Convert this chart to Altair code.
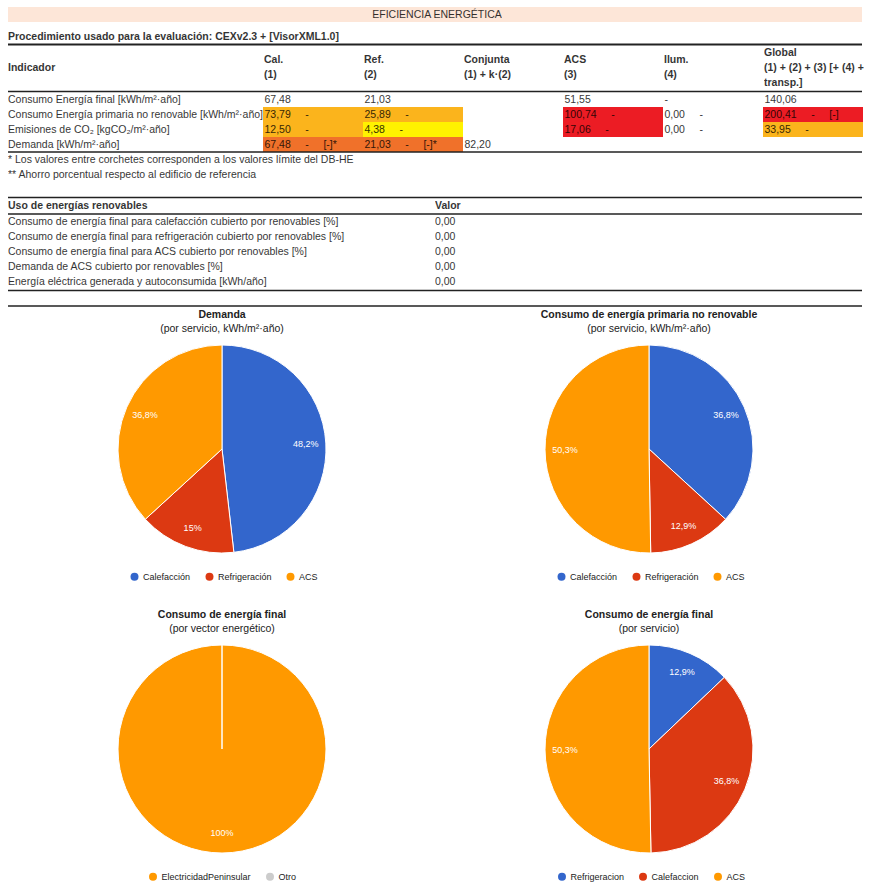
import altair as alt
import pandas as pd

FONT = "Liberation Sans"

# ---------------- data ----------------
titulo = "EFICIENCIA ENERGÉTICA"
procedimiento = "Procedimiento usado para la evaluación: CEXv2.3 + [VisorXML1.0]"

indicadores = [
    "Consumo Energía final [kWh/m²·año]",
    "Consumo Energía primaria no renovable [kWh/m²·año]",
    "Emisiones de CO₂ [kgCO₂/m²·año]",
    "Demanda [kWh/m²·año]",
]
cabecera_1 = ["Cal.", "Ref.", "Conjunta", "ACS", "Ilum."]
cabecera_2 = ["(1)", "(2)", "(1) + k·(2)", "(3)", "(4)"]
cabecera_global = ["Global", "(1) + (2) + (3) [+ (4) +", "transp.]"]

cal = [67.48, 73.79, 12.50, 67.48]
ref = [21.03, 25.89, 4.38, 21.03]
conjunta = [None, None, None, 82.20]
acs = [51.55, 100.74, 17.06, None]
ilum = ["-", 0.00, 0.00, None]
glob = [140.06, 200.41, 33.95, None]

marcas = [
    ["", "", "", "", "", ""],
    ["-", "-", "", "-", "-", "- [-]"],
    ["-", "-", "", "-", "-", "-"],
    ["- [-]*", "- [-]*", "", "", "", ""],
]
notas = [
    "* Los valores entre corchetes corresponden a los valores límite del DB-HE",
    "** Ahorro porcentual respecto al edificio de referencia",
]

renov_titulo = ["Uso de energías renovables", "Valor"]
renovables = [
    "Consumo de energía final para calefacción cubierto por renovables [%]",
    "Consumo de energía final para refrigeración cubierto por renovables [%]",
    "Consumo de energía final para ACS cubierto por renovables [%]",
    "Demanda de ACS cubierto por renovables [%]",
    "Energía eléctrica generada y autoconsumida [kWh/año]",
]
renovables_valor = [0.00, 0.00, 0.00, 0.00, 0.00]

servicios = ["Calefacción", "Refrigeración", "ACS"]
demanda_serv = [67.48, 21.03, 51.55]
primaria_serv = [73.79, 25.89, 100.74]
vectores = ["ElectricidadPeninsular", "Otro"]
final_vector = [140.06, 0.00]
servicios_final = ["Refrigeracion", "Calefaccion", "ACS"]
final_serv = [12.9, 36.8, 50.3]

pie_titulos = [
    ("Demanda", "(por servicio, kWh/m²·año)"),
    ("Consumo de energía primaria no renovable", "(por servicio, kWh/m²·año)"),
    ("Consumo de energía final", "(por vector energético)"),
    ("Consumo de energía final", "(por servicio)"),
]

# ---------------- style / layout ----------------
C_NAR, C_AMA, C_NOS, C_ROJ = "#fbb41c", "#fff200", "#f0712a", "#ec1c24"
fondos = [
    [None] * 6,
    [C_NAR, C_NAR, None, C_ROJ, None, C_ROJ],
    [C_NAR, C_AMA, None, C_ROJ, None, C_NAR],
    [C_NOS, C_NOS, None, None, None, None],
]
BLUE, RED, ORANGE, GREY = "#3366cc", "#dc3912", "#ff9900", "#cccccc"
X0, X1 = 8, 862
col_x = [263, 363, 463, 563, 663, 763]
col_w = 100
row_top = [92, 107, 122, 137]
row_h = 15
NB = "\u00a0" * 5


def fmt(v):
    return v if isinstance(v, str) else f"{v:.2f}".replace(".", ",")


def pct_label(v, total):
    if v <= 0:
        return ""
    s = f"{100 * v / total:.1f}"
    if s.endswith(".0"):
        s = s[:-2]
    return s.replace(".", ",") + "%"


# ---------------- backgrounds ----------------
rect_rows = [dict(x=X0, x2=X1, y=7, y2=22, fill="#fde6d8")]
for r in range(4):
    for c in range(6):
        if fondos[r][c]:
            rect_rows.append(dict(x=col_x[c], x2=col_x[c] + col_w, y=row_top[r],
                                  y2=row_top[r] + row_h, fill=fondos[r][c]))
rects = alt.Chart(pd.DataFrame(rect_rows)).mark_rect().encode(
    x=alt.X("x:Q", scale=None, axis=None), x2="x2:Q",
    y=alt.Y("y:Q", scale=None, axis=None), y2="y2:Q",
    color=alt.Color("fill:N", scale=None),
)

# ---------------- rules ----------------
rule_rows = [dict(x=X0, x2=X1, y=yy, w=ww) for yy, ww in
             [(44.5, 2), (91.5, 1.5), (152, 1.5), (197.5, 1.5), (214, 1.5), (290.5, 1.5), (306, 1.5)]]
rules = alt.Chart(pd.DataFrame(rule_rows)).mark_rule(color="#222").encode(
    x=alt.X("x:Q", scale=None, axis=None), x2="x2:Q",
    y=alt.Y("y:Q", scale=None, axis=None),
    strokeWidth=alt.StrokeWidth("w:Q", scale=None),
)

# ---------------- texts ----------------
reg, bold = [], []
bold.append(dict(x=X0, y=37, t=procedimiento))
bold.append(dict(x=X0, y=68, t="Indicador"))
for i in range(5):
    bold.append(dict(x=col_x[i] + 1, y=60, t=cabecera_1[i]))
    bold.append(dict(x=col_x[i] + 1, y=75, t=cabecera_2[i]))
for j, t in enumerate(cabecera_global):
    bold.append(dict(x=col_x[5] + 1, y=53 + 15 * j, t=t))
cols = [cal, ref, conjunta, acs, ilum, glob]
for r in range(4):
    yc = row_top[r] + 7.5
    reg.append(dict(x=X0, y=yc, t=indicadores[r]))
    for c in range(6):
        v = cols[c][r]
        if v is None:
            continue
        s = fmt(v)
        if marcas[r][c]:
            s += NB + marcas[r][c].replace(" ", NB)
        reg.append(dict(x=col_x[c] + 1.5, y=yc, t=s))
reg.append(dict(x=X0, y=159.5, t=notas[0]))
reg.append(dict(x=X0, y=175, t=notas[1]))
bold.append(dict(x=X0, y=206, t=renov_titulo[0]))
bold.append(dict(x=435, y=206, t=renov_titulo[1]))
for k in range(5):
    reg.append(dict(x=X0, y=222.3 + 15 * k, t=renovables[k]))
    reg.append(dict(x=435, y=222.3 + 15 * k, t=fmt(renovables_valor[k])))


def text_layer(rows, weight, align="left", color="#000", opacity=0.8, size=10.5):
    return alt.Chart(pd.DataFrame(rows)).mark_text(
        font=FONT, fontSize=size, fontWeight=weight, align=align, baseline="middle",
        color=color, opacity=opacity,
    ).encode(
        x=alt.X("x:Q", scale=None, axis=None),
        y=alt.Y("y:Q", scale=None, axis=None),
        text="t:N",
    )


t_reg = text_layer(reg, "normal")
t_bold = text_layer(bold, "bold")
t_banner = text_layer([dict(x=437, y=15, t=titulo)], "normal", align="center")

centers = [(222, 449), (649, 449), (222, 749), (649, 749)]
pt_bold = text_layer([dict(x=cx, y=cy - 134, t=pie_titulos[i][0]) for i, (cx, cy) in enumerate(centers)],
                     "bold", align="center", color="#222", opacity=1)
pt_reg = text_layer([dict(x=cx, y=cy - 120, t=pie_titulos[i][1]) for i, (cx, cy) in enumerate(centers)],
                    "normal", align="center", color="#222", opacity=1)


# ---------------- pies ----------------
def pie(cats, vals, colors, cx, cy, lx, ly):
    total = sum(vals)
    df = pd.DataFrame({
        "cat": cats, "val": vals, "ord": list(range(len(cats))),
        "lbl": [pct_label(v, total) for v in vals],
    })
    base = alt.Chart(df).encode(
        theta=alt.Theta("val:Q", stack=True),
        order=alt.Order("ord:Q", sort="ascending"),
        detail="cat:N",
    )
    arcs = base.mark_arc(outerRadius=104, stroke="#ffffff", strokeWidth=1).encode(
        x=alt.value(cx), y=alt.value(cy),
        color=alt.Color(
            "cat:N", title=None,
            scale=alt.Scale(domain=cats, range=colors),
            legend=alt.Legend(
                orient="none", legendX=lx, legendY=ly, direction="horizontal",
                symbolType="circle", symbolSize=64, symbolStrokeWidth=0,
                labelFont=FONT, labelFontSize=9, labelColor="#222",
                labelOffset=4, columnPadding=14, padding=0,
            ),
        ),
    )
    labels = base.mark_text(radius=84, font=FONT, fontSize=9, color="#ffffff",
                            align="center", baseline="middle").encode(
        x=alt.value(cx), y=alt.value(cy), text="lbl:N",
    )
    return alt.layer(arcs, labels)


p1 = pie(servicios, demanda_serv, [BLUE, RED, ORANGE], 222, 449, 130, 572)
p2 = pie(servicios, primaria_serv, [BLUE, RED, ORANGE], 649, 449, 557, 572)
p3 = pie(vectores, final_vector, [ORANGE, GREY], 222, 749, 148.5, 872)
p4 = pie(servicios_final, final_serv, [BLUE, RED, ORANGE], 649, 749, 557.5, 872)

chart = alt.layer(
    rects, rules, t_banner, t_bold, t_reg, pt_bold, pt_reg, p1, p2, p3, p4
).resolve_scale(
    color="independent", theta="independent"
).properties(
    width=874, height=887, padding=0,
    autosize=alt.AutoSizeParams(type="none"),
    background="#ffffff",
).configure_view(stroke="transparent")

chart.save("out.html", embed_options={"renderer": "svg", "actions": False})
